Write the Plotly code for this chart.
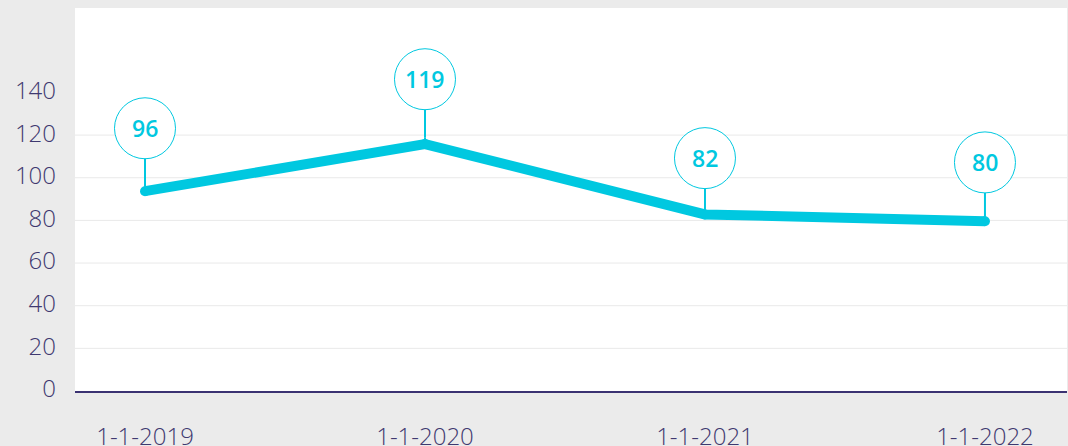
import plotly.graph_objects as go

categories = ["1-1-2019", "1-1-2020", "1-1-2021", "1-1-2022"]
line_values = [93.7, 115.8, 82.8, 79.6]
label_values = [96, 119, 82, 80]
y_ticks = [0, 20, 40, 60, 80, 100, 120, 140]
grid_values = [20, 40, 60, 80, 100, 120]

CYAN = "#00c8e0"
TEXT = "#3f3970"
FONT = "Open Sans"

x_idx = list(range(len(categories)))

fig = go.Figure()
fig.add_trace(go.Scatter(
    x=x_idx, y=line_values, mode="lines+markers",
    line=dict(color=CYAN, width=10),
    marker=dict(color=CYAN, size=10),
    hoverinfo="skip", showlegend=False,
))

shapes = []
for g in grid_values:
    shapes.append(dict(type="line", xref="paper", yref="y", x0=0, x1=1, y0=g, y1=g,
                       line=dict(color="#e9e9e9", width=1), layer="below"))
annotations = []
for i, lv, tv in zip(x_idx, line_values, label_values):
    shapes.append(dict(type="line", xref="x", yref="y", x0=i, x1=i, y0=lv, y1=tv,
                       line=dict(color=CYAN, width=2), layer="above"))
    shapes.append(dict(type="line", xref="x", yref="y", xsizemode="pixel", ysizemode="pixel",
                       xanchor=i, yanchor=tv, x0=0, x1=0, y0=0, y1=58,
                       line=dict(color=CYAN, width=2), layer="above"))
    shapes.append(dict(type="circle", xref="x", yref="y", xsizemode="pixel", ysizemode="pixel",
                       xanchor=i, yanchor=tv, x0=-30.5, x1=30.5, y0=27.5, y1=88.5,
                       line=dict(color=CYAN, width=1), fillcolor="white", layer="above"))
    annotations.append(dict(x=i, y=tv, xref="x", yref="y", text=str(tv), showarrow=False,
                            yshift=58, font=dict(family=FONT, size=23, color=CYAN, weight=600)))

fig.update_layout(
    width=1068, height=446,
    margin=dict(l=75, r=1, t=8, b=55),
    paper_bgcolor="#ebebeb", plot_bgcolor="white",
    shapes=shapes, annotations=annotations,
    xaxis=dict(tickvals=x_idx, ticktext=categories, range=[-0.25, 3.293], automargin=False,
               showgrid=False, zeroline=False, showline=True, linecolor="#3b3272", linewidth=1.5,
               tickfont=dict(family=FONT, size=24, color=TEXT, weight=300), ticks="",
               ticklabelstandoff=23),
    yaxis=dict(tickvals=y_ticks, range=[0, 179.6], automargin=False,
               showgrid=False, zeroline=False, showline=False,
               tickfont=dict(family=FONT, size=24, color=TEXT, weight=300), ticks="",
               ticklabelstandoff=18, ticklabelshift=-2),
    hovermode=False,
)

fig.write_html("out.html", config={"displayModeBar": False},
               post_script="document.body.style.margin='0';")
